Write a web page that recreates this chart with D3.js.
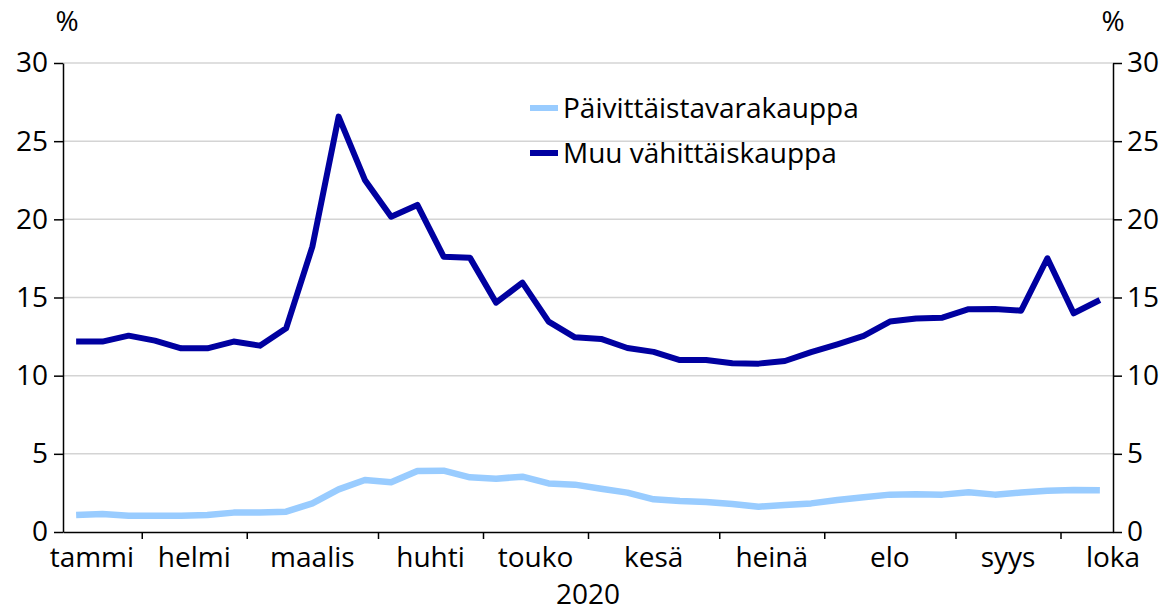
<!DOCTYPE html>
<html>
<head>
<meta charset="utf-8">
<script src="https://cdn.jsdelivr.net/npm/d3@7"></script>
<style>
  body { margin: 0; background: #fff; }
  svg text { font-family: "Open Sans", "Noto Sans", sans-serif; fill: #000; }
</style>
</head>
<body>
<svg id="chart" width="1167" height="611"></svg>
<script>
// weekly shares, %, weeks of 2020 (40 points)
var paivittaistavara = [1.09, 1.15, 1.04, 1.04, 1.04, 1.09, 1.24, 1.24, 1.30, 1.83,
  2.73, 3.33, 3.18, 3.90, 3.92, 3.50, 3.41, 3.54, 3.11, 3.03,
  2.77, 2.52, 2.09, 1.98, 1.92, 1.79, 1.62, 1.73, 1.83, 2.05,
  2.22, 2.39, 2.41, 2.39, 2.54, 2.39, 2.52, 2.64, 2.69, 2.67];
var muuVahittais = [12.18, 12.18, 12.56, 12.24, 11.75, 11.75, 12.18, 11.92, 13.03, 18.25,
  26.57, 22.52, 20.17, 20.92, 17.61, 17.55, 14.67, 15.95, 13.46, 12.45,
  12.35, 11.77, 11.52, 11.00, 11.00, 10.79, 10.77, 10.94, 11.50, 12.00,
  12.54, 13.46, 13.65, 13.71, 14.25, 14.27, 14.16, 17.51, 13.99, 14.84];

// month boundaries and label positions, in weeks
var monthTicks = [3, 7, 12, 16, 20, 25, 29, 34, 38];
var monthNames = ["tammi", "helmi", "maalis", "huhti", "touko", "kesä", "heinä", "elo", "syys", "loka"];
var monthLabelPos = [1.1, 5, 9.5, 14, 18, 22.5, 27, 31.5, 36, 40];
var yTicks = [0, 5, 10, 15, 20, 25, 30];

var seriesNames = ["Päivittäistavarakauppa", "Muu vähittäiskauppa"];
var seriesColors = ["#99ccff", "#0000a0"];

var fs = 28;
var svg = d3.select("#chart");
var margin = {top: 63, right: 54, bottom: 79, left: 63},
    width = 1167 - margin.left - margin.right,
    height = 611 - margin.top - margin.bottom;
var g = svg.append("g").attr("transform", "translate(" + margin.left + "," + margin.top + ")");

var x = d3.scaleLinear().domain([0, 40]).range([0, width]);
var y = d3.scaleLinear().domain([0, 30]).range([height, 0]);

// grid
g.append("g")
  .selectAll("line")
  .data(yTicks.filter(function(d) { return d > 0; }))
  .join("line")
    .attr("x1", 0).attr("x2", width)
    .attr("y1", function(d) { return y(d); })
    .attr("y2", function(d) { return y(d); })
    .attr("stroke", "#d4d4d4")
    .attr("stroke-width", 1.5);

var lineGen = d3.line()
  .x(function(d, i) { return x(i + 0.5); })
  .y(function(d) { return y(d); });

[paivittaistavara, muuVahittais].forEach(function(s, k) {
  g.append("path")
    .datum(s)
    .attr("fill", "none")
    .attr("stroke", seriesColors[k])
    .attr("stroke-width", k == 0 ? 6.5 : 6)
    .attr("stroke-linejoin", "round")
    .attr("d", lineGen);
});

// axes
var leftAxis = g.append("g")
  .call(d3.axisLeft(y).tickValues(yTicks).tickSize(9).tickSizeOuter(0).tickPadding(6));
var rightAxis = g.append("g")
  .attr("transform", "translate(" + width + ",0)")
  .call(d3.axisRight(y).tickValues(yTicks).tickSize(9).tickSizeOuter(0).tickPadding(5));
var bottomAxis = g.append("g")
  .attr("transform", "translate(0," + height + ")")
  .call(d3.axisBottom(x).tickValues(monthTicks).tickSize(7).tickSizeOuter(0).tickFormat(""));

[leftAxis, rightAxis, bottomAxis].forEach(function(a) {
  a.selectAll(".domain").attr("stroke", "#000").attr("stroke-width", 1.5);
  a.selectAll(".tick line").attr("stroke", "#000").attr("stroke-width", 1.5);
  a.selectAll("text").attr("font-size", fs).attr("font-family", null).attr("fill", "#000");
});

g.append("g")
  .selectAll("text")
  .data(monthNames)
  .join("text")
    .attr("x", function(d, i) { return x(monthLabelPos[i]); })
    .attr("y", height + 35)
    .attr("text-anchor", "middle")
    .attr("font-size", fs)
    .text(function(d) { return d; });

g.append("text")
  .attr("x", x(20))
  .attr("y", height + 72)
  .attr("text-anchor", "middle")
  .attr("font-size", fs)
  .text("2020");

svg.append("text").attr("x", 67).attr("y", 31).attr("text-anchor", "middle").attr("font-size", 28).text("%");
svg.append("text").attr("x", 1113).attr("y", 31).attr("text-anchor", "middle").attr("font-size", 28).text("%");

// legend
var legend = svg.append("g").attr("transform", "translate(530,108)");
seriesNames.forEach(function(name, k) {
  var row = legend.append("g").attr("transform", "translate(0," + (k * 45) + ")");
  row.append("line").attr("x1", 0).attr("x2", 28)
    .attr("stroke", seriesColors[k]).attr("stroke-width", 6);
  row.append("text").attr("x", 33).attr("dy", "0.35em").attr("font-size", fs).text(name);
});
</script>
</body>
</html>
